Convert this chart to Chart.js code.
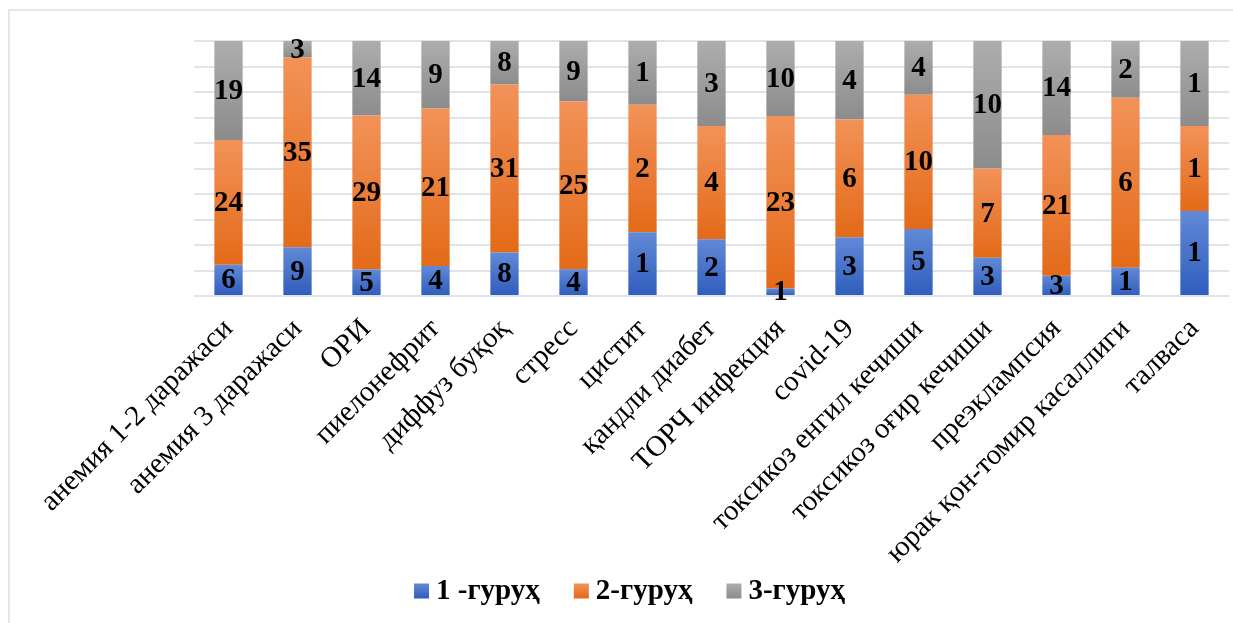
<!DOCTYPE html>
<html>
<head>
<meta charset="utf-8">
<script src="https://cdn.jsdelivr.net/npm/chart.js@4/dist/chart.umd.min.js"></script>
<style>
  html, body { margin: 0; padding: 0; background: #fff; }
  #wrap { position: relative; width: 1233px; height: 623px; overflow: hidden; }
  #frame { position: absolute; left: 8px; top: 9px; width: 1300px; height: 700px;
           border-left: 2px solid #e4e7ec; border-top: 2px solid #e4e7ec; }
  canvas { position: absolute; left: 0; top: 0; }
</style>
</head>
<body>
<div id="wrap">
  <div id="frame"></div>
  <canvas id="c" width="1233" height="623"></canvas>
</div>
<script>
// Conditions (x-axis categories)
const categories = [
  'анемия 1-2 даражаси', 'анемия 3 даражаси', 'ОРИ', 'пиелонефрит', 'диффуз буқоқ',
  'стресс', 'цистит', 'қандли диабет', 'ТОРЧ инфекция', 'covid-19',
  'токсикоз енгил кечиши', 'токсикоз оғир кечиши', 'преэклампсия',
  'юрак қон-томир касаллиги', 'талваса'
];

// Patient counts per group
const group1 = [6, 9, 5, 4, 8, 4, 1, 2, 1, 3, 5, 3, 3, 1, 1];
const group2 = [24, 35, 29, 21, 31, 25, 2, 4, 23, 6, 10, 7, 21, 6, 1];
const group3 = [19, 3, 14, 9, 8, 9, 1, 3, 10, 4, 4, 10, 14, 2, 1];

const seriesNames = ['1 -гуруҳ', '2-гуруҳ', '3-гуруҳ'];
const seriesCounts = [group1, group2, group3];

// Each bar is scaled to 100% of its category total
const totals = categories.map((_, i) => group1[i] + group2[i] + group3[i]);
const seriesShares = seriesCounts.map(arr => arr.map((v, i) => v / totals[i] * 100));

const SERIF = '"Liberation Serif", "Times New Roman", serif';

const palette = [
  { top: '#6189d6', bottom: '#2f5dbd' },
  { top: '#f29259', bottom: '#e36a18' },
  { top: '#adadad', bottom: '#8c8c8c' }
];

function segmentFill(ctx) {
  const chart = ctx.chart;
  const ds = ctx.datasetIndex;
  const colors = palette[ds];
  if (!chart.chartArea || ctx.type !== 'data') return colors.bottom;
  const i = ctx.dataIndex;
  let start = 0;
  for (let k = 0; k < ds; k++) start += seriesShares[k][i];
  const end = start + seriesShares[ds][i];
  const y = chart.scales.y;
  const yTop = y.getPixelForValue(end);
  const yBot = y.getPixelForValue(start);
  if (!isFinite(yTop) || !isFinite(yBot) || yTop === yBot) return colors.bottom;
  const g = chart.ctx.createLinearGradient(0, yTop, 0, yBot);
  g.addColorStop(0, colors.top);
  g.addColorStop(1, colors.bottom);
  return g;
}

// Count labels centred in each segment
const countLabels = {
  id: 'countLabels',
  afterDatasetsDraw(chart) {
    const c = chart.ctx;
    c.save();
    c.font = 'bold 29px ' + SERIF;
    c.fillStyle = '#000';
    c.textAlign = 'center';
    c.textBaseline = 'middle';
    chart.data.datasets.forEach((ds, d) => {
      const meta = chart.getDatasetMeta(d);
      meta.data.forEach((el, i) => {
        const cy = (el.y + el.base) / 2;
        c.fillText(String(seriesCounts[d][i]), el.x, cy + 1);
      });
    });
    c.restore();
  }
};

// Legend row under the axis labels
const legendRow = {
  id: 'legendRow',
  afterDraw(chart) {
    const c = chart.ctx;
    const box = 15, gapText = 7, gapItem = 34;
    c.save();
    c.font = 'bold 29px ' + SERIF;
    c.textBaseline = 'middle';
    c.textAlign = 'left';
    const widths = seriesNames.map(t => c.measureText(t).width);
    const total = widths.reduce((a, w) => a + box + gapText + w, 0) + gapItem * (seriesNames.length - 1);
    const cx = chart.width / 2 + 13;
    const cy = 591;
    let x = cx - total / 2;
    seriesNames.forEach((t, d) => {
      const g = c.createLinearGradient(0, cy - box / 2, 0, cy + box / 2);
      g.addColorStop(0, palette[d].top);
      g.addColorStop(1, palette[d].bottom);
      c.fillStyle = g;
      c.fillRect(x, cy - box / 2, box, box);
      c.fillStyle = '#000';
      c.fillText(t, x + box + gapText, cy + 1);
      x += box + gapText + widths[d] + gapItem;
    });
    c.restore();
  }
};

new Chart(document.getElementById('c'), {
  type: 'bar',
  data: {
    labels: categories,
    datasets: seriesNames.map((name, d) => ({
      label: name,
      data: seriesShares[d],
      backgroundColor: segmentFill,
      borderWidth: 0,
      categoryPercentage: 1,
      barPercentage: 0.41
    }))
  },
  options: {
    responsive: false,
    animation: false,
    devicePixelRatio: 1,
    layout: { padding: { left: 10, right: 4, top: 41, bottom: 0 } },
    plugins: {
      legend: { display: false },
      tooltip: { enabled: false }
    },
    scales: {
      x: {
        stacked: true,
        grid: { display: false },
        border: { display: false },
        ticks: {
          color: '#000',
          font: { family: SERIF, size: 29 },
          minRotation: 45,
          maxRotation: 45,
          autoSkip: false,
          padding: 8
        },
        afterFit(scale) { scale.height = 327; }
      },
      y: {
        stacked: true,
        min: 0,
        max: 100,
        border: { display: false },
        grid: { color: '#dfe3ea', lineWidth: 2, drawTicks: false },
        ticks: { display: false, stepSize: 10 },
        afterFit(scale) { scale.width = 184; }
      }
    }
  },
  plugins: [countLabels, legendRow]
});
</script>
</body>
</html>
